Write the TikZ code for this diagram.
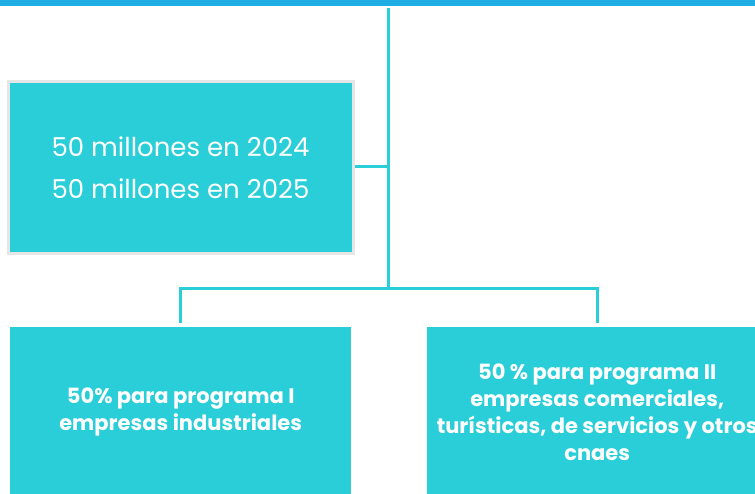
\documentclass[tikz,border=0pt]{standalone}
\usepackage{fontspec}
\usetikzlibrary{calc}
\setmainfont{Poppins}
\definecolor{topbar}{RGB}{31,174,227}
\definecolor{teal}{RGB}{41,206,216}
\definecolor{bordergray}{RGB}{230,230,230}
\begin{document}
\begin{tikzpicture}[x=1pt,y=-1pt,
  conn/.style={draw=teal,line width=3pt},
  boxstyle/.style={fill=teal,text=white,inner sep=0pt,align=center,anchor=north west},
]
\useasboundingbox (0,0) rectangle (755,494);
\fill[topbar] (0,0) rectangle (755,6);
\node[boxstyle,draw=bordergray,line width=3pt,minimum width=345pt,minimum height=172pt,
  font=\fontsize{26}{42}\selectfont] (top) at (6.5,80.5)
  {50 millones en 2024\\50 millones en 2025};
\node[boxstyle,minimum width=341pt,minimum height=170pt,
  font=\fontsize{21}{27}\selectfont\bfseries] (bl) at (10,327)
  {50\% para programa I\\empresas industriales};
\node[boxstyle,minimum width=340pt,minimum height=170pt,
  font=\fontsize{21}{27}\selectfont\bfseries] (br) at (427,327)
  {50 \% para programa II\\empresas comerciales,\\turísticas, de servicios y otros\\cnaes};
\coordinate (vtop) at (388,8);
\coordinate (hub) at (388,289);
\coordinate (side) at (388,167);
\coordinate (lft) at (180,289);
\coordinate (rgt) at (597,289);
\draw[conn] (vtop) -- (hub);
\draw[conn] (top.east |- side) -- (side);
\draw[conn] ($(bl.north -| lft)+(0,-4)$) -- (lft) -- (rgt) -- ($(br.north -| rgt)+(0,-4)$);
\end{tikzpicture}
\end{document}
